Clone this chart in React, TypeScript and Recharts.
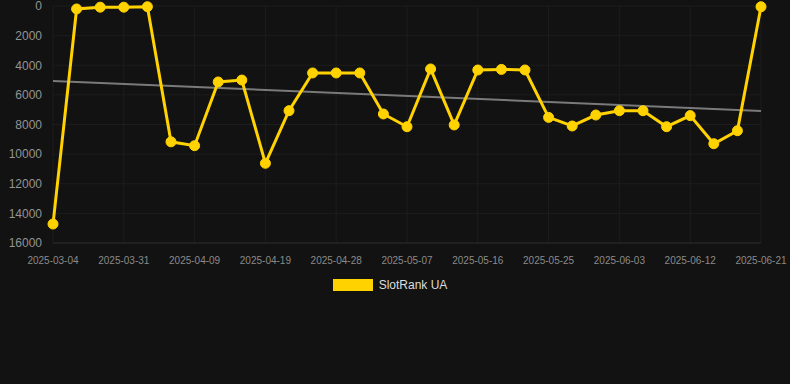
import React from "react";
import {
  LineChart,
  Line,
  XAxis,
  YAxis,
  CartesianGrid,
  Legend,
  ReferenceLine,
} from "recharts";

const dates = [
  "2025-03-04", "2025-03-25", "2025-03-28", "2025-03-31", "2025-04-03",
  "2025-04-06", "2025-04-09", "2025-04-12", "2025-04-16", "2025-04-19",
  "2025-04-22", "2025-04-25", "2025-04-28", "2025-05-01", "2025-05-04",
  "2025-05-07", "2025-05-10", "2025-05-13", "2025-05-16", "2025-05-19",
  "2025-05-22", "2025-05-25", "2025-05-28", "2025-05-31", "2025-06-03",
  "2025-06-06", "2025-06-09", "2025-06-12", "2025-06-15", "2025-06-18",
  "2025-06-21",
];

const ranks = [
  14720, 200, 80, 80, 50, 9170, 9430, 5130, 5000, 10620,
  7070, 4520, 4520, 4520, 7290, 8150, 4250, 8030, 4320, 4280,
  4320, 7520, 8100, 7360, 7070, 7070, 8150, 7400, 9300, 8420,
  50,
];

const yTicks = [0, 2000, 4000, 6000, 8000, 10000, 12000, 14000, 16000];

// trend line endpoints (first / last date)
const trendValues = [5060, 7090];

const data = dates.map((date, i) => ({ date, rank: ranks[i] }));

const YELLOW = "#FFD200";

function LegendBox() {
  return (
    <div
      style={{
        display: "flex",
        justifyContent: "center",
        alignItems: "center",
        fontFamily: "Arial, 'Liberation Sans', sans-serif",
        fontSize: 12,
        color: "#dddddd",
      }}
    >
      <span
        style={{
          display: "inline-block",
          width: 40,
          height: 12,
          background: YELLOW,
          marginRight: 6,
        }}
      />
      SlotRank UA
    </div>
  );
}

export default function App() {
  return (
    <div
      style={{
        position: "absolute",
        top: 0,
        left: 0,
        width: 790,
        height: 384,
        background: "#121212",
      }}
    >
      <LineChart
        width={790}
        height={384}
        data={data}
        margin={{ top: 6, right: 29, left: 0, bottom: 91 }}
        style={{ fontFamily: "Arial, 'Liberation Sans', sans-serif" }}
      >
        <CartesianGrid stroke="#1d1d1d" strokeWidth={1} />
        <XAxis
          dataKey="date"
          interval={2}
          axisLine={{ stroke: "#2a2a2a" }}
          tickLine={false}
          tickMargin={8}
          tick={{ fill: "#8a8a8a", fontSize: 10 }}
          height={30}
        />
        <YAxis
          reversed
          domain={[0, 16000]}
          ticks={yTicks}
          interval={0}
          axisLine={false}
          tickLine={false}
          tickMargin={5}
          width={53}
          tick={{ fill: "#949494", fontSize: 12 }}
        />
        <ReferenceLine
          segment={[
            { x: dates[0], y: trendValues[0] },
            { x: dates[dates.length - 1], y: trendValues[1] },
          ]}
          stroke="#7a7a7a"
          strokeWidth={2}
        />
        <Line
          dataKey="rank"
          stroke={YELLOW}
          strokeWidth={3}
          dot={{ r: 5, fill: YELLOW, stroke: YELLOW, strokeWidth: 1 }}
          activeDot={false}
          isAnimationActive={false}
        />
        <Legend
          verticalAlign="bottom"
          height={20}
          content={() => <LegendBox />}
          wrapperStyle={{ top: 278, bottom: "auto", left: -5, width: 790 }}
        />
      </LineChart>
    </div>
  );
}
